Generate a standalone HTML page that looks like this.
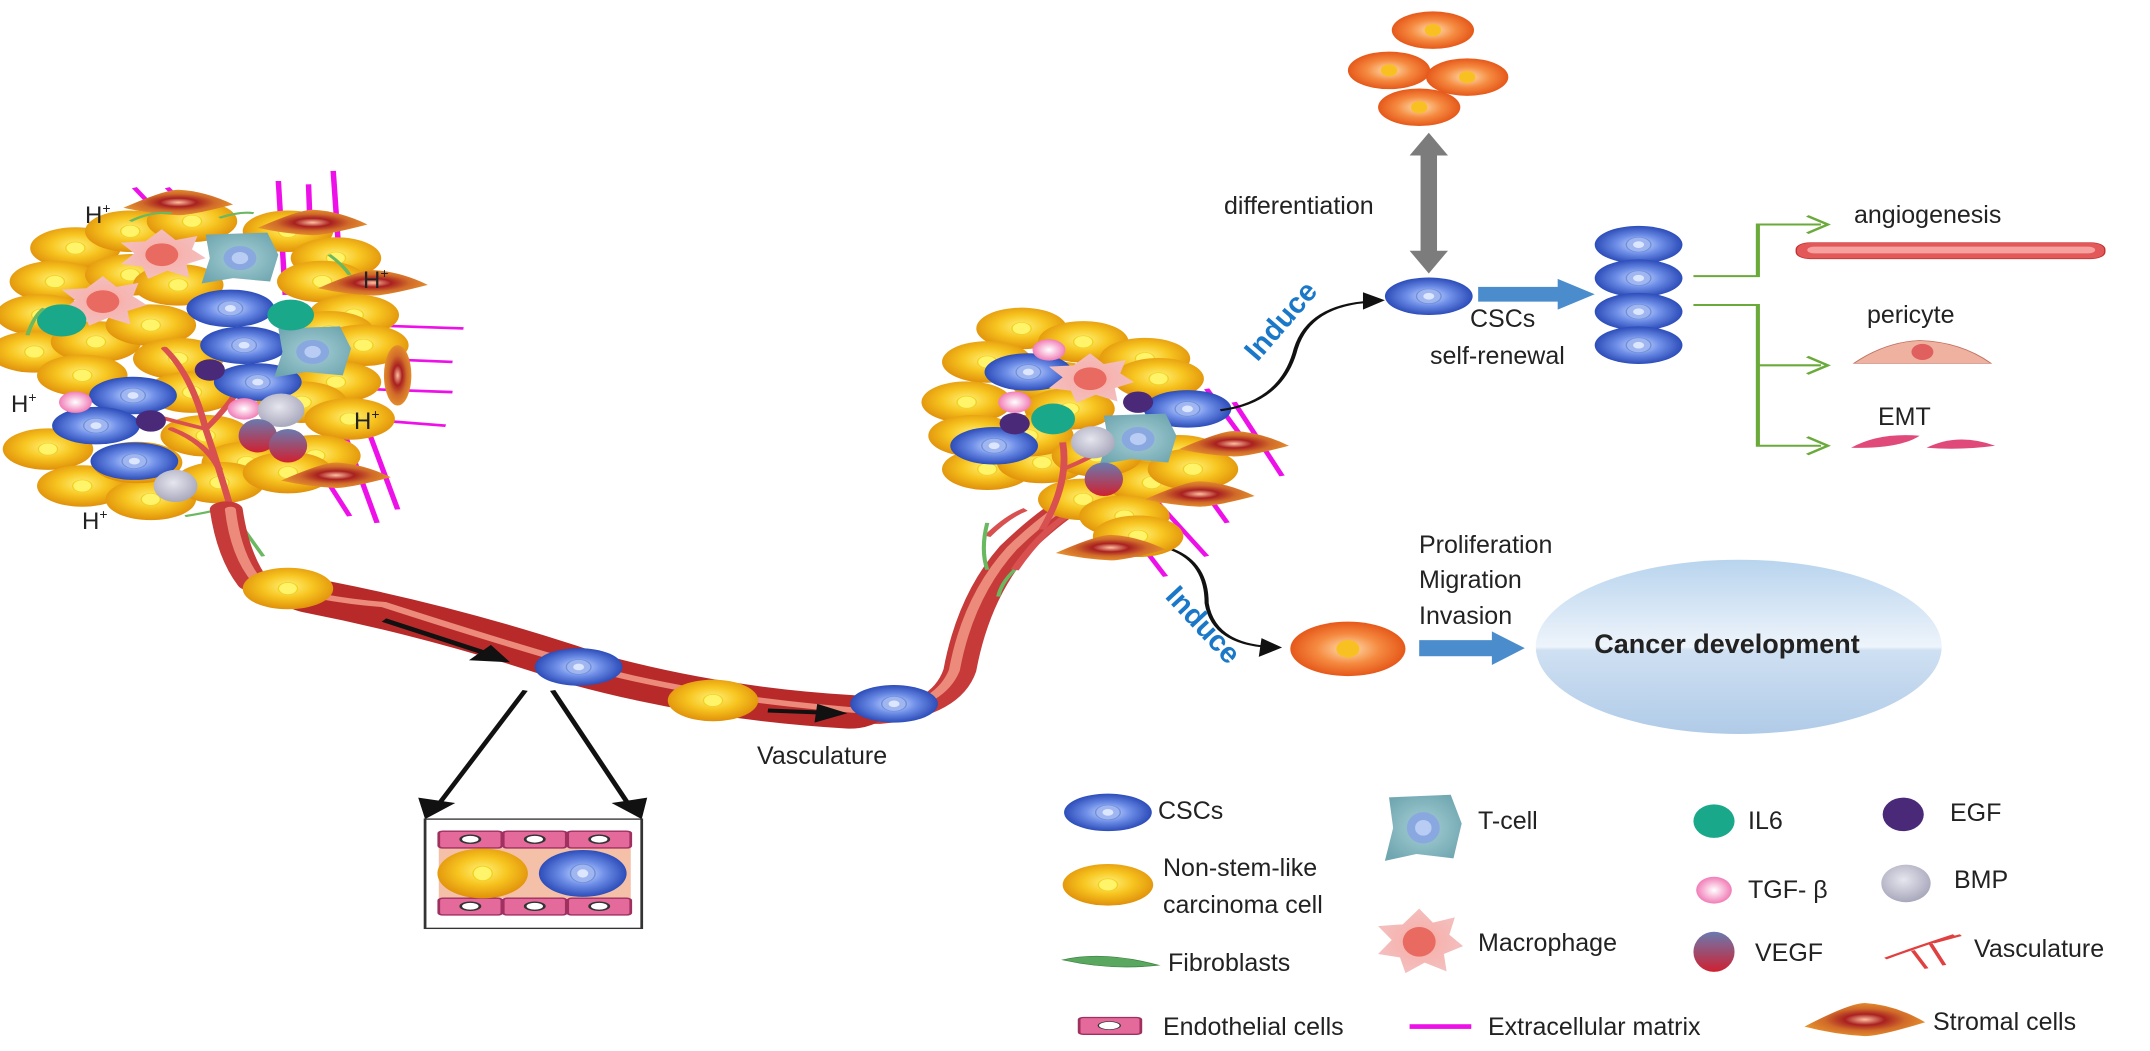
<!DOCTYPE html>
<html><head><meta charset="utf-8"><style>
html,body{margin:0;padding:0;background:#fff}
svg{display:block}
text{font-family:"Liberation Sans",Arial,sans-serif;fill:#222}
</style></head><body>
<svg width="2150" height="1051" viewBox="0 0 2150 1051" xmlns="http://www.w3.org/2000/svg">
<defs>
<radialGradient id="gy" cx="50%" cy="45%" r="55%"><stop offset="0" stop-color="#fff27a"/><stop offset="0.5" stop-color="#f7c520"/><stop offset="1" stop-color="#e0900a"/></radialGradient>
<radialGradient id="gb" cx="50%" cy="50%" r="55%"><stop offset="0" stop-color="#d6e2ff"/><stop offset="0.45" stop-color="#6f8fe8"/><stop offset="1" stop-color="#1f3fb0"/></radialGradient>
<radialGradient id="go" cx="50%" cy="50%" r="55%"><stop offset="0" stop-color="#ffe0b0"/><stop offset="0.5" stop-color="#f58a40"/><stop offset="1" stop-color="#e24d12"/></radialGradient>
<radialGradient id="gt" cx="50%" cy="50%" r="60%"><stop offset="0" stop-color="#a8d0d6"/><stop offset="1" stop-color="#6fa6b0"/></radialGradient>
<radialGradient id="gm" cx="50%" cy="50%" r="55%"><stop offset="0" stop-color="#ff9c8c"/><stop offset="0.4" stop-color="#f6b4b0"/><stop offset="1" stop-color="#f3c0c0"/></radialGradient>
<radialGradient id="gp" cx="50%" cy="50%" r="55%"><stop offset="0" stop-color="#fff"/><stop offset="1" stop-color="#f070b0"/></radialGradient>
<radialGradient id="gbmp" cx="45%" cy="40%" r="60%"><stop offset="0" stop-color="#e6e6ef"/><stop offset="1" stop-color="#a8a8bc"/></radialGradient>
<linearGradient id="gv" x1="0" y1="0" x2="0" y2="1"><stop offset="0" stop-color="#6a7ab0"/><stop offset="1" stop-color="#d02030"/></linearGradient>
<linearGradient id="gc" x1="0" y1="0" x2="0" y2="1"><stop offset="0" stop-color="#b8d4ee"/><stop offset="0.5" stop-color="#eef4fb"/><stop offset="0.52" stop-color="#cfe0f2"/><stop offset="1" stop-color="#b0cbe8"/></linearGradient>
<radialGradient id="gs" cx="50%" cy="50%" r="55%"><stop offset="0" stop-color="#ffc0a0"/><stop offset="0.3" stop-color="#a82020"/><stop offset="0.6" stop-color="#d06a2a"/><stop offset="1" stop-color="#e8962c"/></radialGradient>
<g id="Y"><ellipse rx="33" ry="31" fill="url(#gy)"/><ellipse rx="7" ry="9" fill="#fff46a" stroke="#f2d020"/></g>
<g id="B"><ellipse rx="32" ry="28" fill="url(#gb)"/><ellipse rx="9" ry="11" fill="#9fb6f0" stroke="#6f8fd8"/><ellipse rx="4" ry="5" fill="#dce6ff"/></g>
<g id="O"><ellipse rx="30" ry="28" fill="url(#go)"/><ellipse rx="6" ry="9" fill="#f8c020"/></g>
<g id="T"><path d="M-25,-35 L20,-38 L28,-5 L22,35 L-5,30 L-28,38 L-22,0 Z" fill="url(#gt)"/><ellipse rx="12" ry="18" fill="#8aa8e0"/><ellipse rx="6" ry="9" fill="#b8ccf4"/></g>
<g id="M"><path d="M0,-38 L10,-22 L26,-28 L22,-8 L32,5 L18,14 L20,34 L4,24 L-10,36 L-14,18 L-30,14 L-20,-2 L-30,-18 L-12,-20 Z" fill="url(#gm)"/><ellipse cx="0" cy="0" rx="12" ry="17" fill="#e86a60"/></g>
<g id="S"><path d="M-40,5 Q-10,-22 0,-22 Q20,-20 40,0 Q10,16 0,16 Q-20,14 -40,5Z" fill="url(#gs)"/></g>
</defs>

<!-- shapes in squashed coordinate space -->
<g transform="scale(1.3712,0.6703)">
<!-- left magenta ECM -->
<g stroke="#ee10e8" stroke-width="4" fill="none">
<line x1="98" y1="280" x2="112" y2="310"/><line x1="122" y1="280" x2="134" y2="305"/>
<line x1="203" y1="270" x2="208" y2="440"/><line x1="225" y1="275" x2="228" y2="440"/><line x1="243" y1="255" x2="250" y2="460"/>
<line x1="265" y1="485" x2="338" y2="490"/><line x1="270" y1="535" x2="330" y2="540"/><line x1="262" y1="580" x2="330" y2="585"/><line x1="262" y1="625" x2="325" y2="635"/>
<line x1="250" y1="640" x2="275" y2="780"/><line x1="270" y1="650" x2="290" y2="760"/><line x1="230" y1="690" x2="255" y2="770"/>
</g>
<!-- left tumor yellows -->
<g>
<use href="#Y" x="55" y="370"/><use href="#Y" x="95" y="345"/><use href="#Y" x="140" y="330"/><use href="#Y" x="210" y="345"/><use href="#Y" x="245" y="385"/>
<use href="#Y" x="40" y="420"/><use href="#Y" x="95" y="410"/><use href="#Y" x="130" y="425"/><use href="#Y" x="235" y="420"/><use href="#Y" x="258" y="470"/>
<use href="#Y" x="30" y="470"/><use href="#Y" x="25" y="525"/><use href="#Y" x="70" y="510"/><use href="#Y" x="110" y="485"/><use href="#Y" x="130" y="535"/>
<use href="#Y" x="240" y="495"/><use href="#Y" x="265" y="515"/><use href="#Y" x="60" y="560"/><use href="#Y" x="140" y="585"/><use href="#Y" x="245" y="570"/>
<use href="#Y" x="220" y="600"/><use href="#Y" x="255" y="625"/><use href="#Y" x="35" y="670"/><use href="#Y" x="150" y="650"/><use href="#Y" x="180" y="690"/>
<use href="#Y" x="230" y="680"/><use href="#Y" x="60" y="725"/><use href="#Y" x="110" y="745"/><use href="#Y" x="160" y="720"/><use href="#Y" x="210" y="705"/><use href="#Y" x="100" y="690"/>
</g>
<!-- left vessel branches -->
<g stroke="#d85050" stroke-width="5" fill="none" stroke-linecap="round">
<path d="M170,770 Q160,700 150,640 Q140,560 120,520"/><path d="M150,640 Q110,620 80,600"/><path d="M160,700 Q150,660 125,640"/>
<path d="M150,640 Q170,600 180,560"/>
</g>
<use href="#B" x="168" y="460"/><use href="#B" x="178" y="515"/><use href="#B" x="188" y="570"/>
<use href="#B" x="97" y="590"/><use href="#B" x="70" y="635"/><use href="#B" x="98" y="688"/>
<use href="#T" x="175" y="385"/><use href="#T" x="228" y="525"/>
<use href="#M" x="118" y="380"/><use href="#M" x="75" y="450"/>
<ellipse cx="45" cy="478" rx="18" ry="24" fill="#1aa88a"/><ellipse cx="212" cy="470" rx="17" ry="23" fill="#1aa88a"/>
<ellipse cx="153" cy="552" rx="11" ry="16" fill="#4a2a78"/><ellipse cx="110" cy="628" rx="11" ry="16" fill="#4a2a78"/>
<ellipse cx="55" cy="600" rx="12" ry="16" fill="url(#gp)"/><ellipse cx="178" cy="610" rx="12" ry="16" fill="url(#gp)"/>
<ellipse cx="205" cy="612" rx="17" ry="25" fill="url(#gbmp)"/><ellipse cx="128" cy="725" rx="16" ry="24" fill="url(#gbmp)"/>
<ellipse cx="188" cy="650" rx="14" ry="25" fill="url(#gv)"/><ellipse cx="210" cy="665" rx="14" ry="25" fill="url(#gv)"/>
<use href="#S" x="130" y="305"/><use href="#S" x="228" y="335"/><use href="#S" x="272" y="425" transform="rotate(0)"/><use href="#S" x="245" y="712"/>
<ellipse cx="290" cy="560" rx="10" ry="45" fill="url(#gs)"/>
<g stroke="#6ab860" stroke-width="3" fill="none"><path d="M95,330 Q110,315 125,318"/><path d="M160,325 Q175,315 185,318"/><path d="M20,500 Q25,470 32,460"/><path d="M240,380 Q250,395 255,410"/><path d="M178,790 Q185,810 192,830"/><path d="M135,770 Q150,765 160,760"/></g>

<!-- main vessel -->
<path d="M165,760 Q170,830 185,870 Q230,900 280,905 Q360,960 430,1000 Q520,1050 640,1068 Q690,1060 700,1000 Q710,890 740,820 Q765,770 790,740" fill="none" stroke="#c63a3a" stroke-width="24" stroke-linejoin="round" stroke-linecap="round"/>
<path d="M230,890 Q330,930 430,1000 Q520,1050 620,1062" fill="none" stroke="#b82a2a" stroke-width="50" stroke-linecap="round"/>
<path d="M168,760 Q172,830 188,868 Q235,895 280,902 Q360,955 430,996 Q520,1045 640,1062 Q685,1055 696,1000 Q706,890 738,818 Q762,770 788,738" fill="none" stroke="#ec8a7c" stroke-width="8" stroke-linecap="round"/>
<path d="M740,850 Q760,790 785,760" fill="none" stroke="#d85050" stroke-width="6"/>
<path d="M720,800 Q735,770 748,760" fill="none" stroke="#d85050" stroke-width="5"/>
<use href="#Y" x="210" y="878"/><use href="#B" x="422" y="995"/><use href="#Y" x="520" y="1045"/><use href="#B" x="652" y="1050"/>
<g stroke="#111" stroke-width="6" fill="#111">
<line x1="280" y1="925" x2="355" y2="975"/><polygon points="372,988 342,985 358,962" stroke="none"/>
<line x1="560" y1="1060" x2="598" y2="1063"/><polygon points="618,1064 594,1078 596,1050" stroke="none"/>
</g>
<g stroke="#111" stroke-width="4" fill="#111">
<line x1="383" y1="1030" x2="318" y2="1205"/><polygon points="310,1222 305,1190 332,1198" stroke="none"/>
<line x1="403" y1="1030" x2="460" y2="1205"/><polygon points="468,1222 446,1198 472,1190" stroke="none"/>
</g>
<!-- zoom box -->
<rect x="310" y="1222" width="158" height="163" fill="#fff" stroke="#333" stroke-width="2"/>
<rect x="320" y="1265" width="140" height="75" fill="#f4c0a8"/>
<g fill="#e56a9c" stroke="#a03060" stroke-width="2">
<rect x="320" y="1240" width="46" height="25" rx="3"/><rect x="367" y="1240" width="46" height="25" rx="3"/><rect x="414" y="1240" width="46" height="25" rx="3"/>
<rect x="320" y="1340" width="46" height="25" rx="3"/><rect x="367" y="1340" width="46" height="25" rx="3"/><rect x="414" y="1340" width="46" height="25" rx="3"/>
</g>
<g fill="#fff" stroke="#333" stroke-width="2"><ellipse cx="343" cy="1252" rx="7" ry="6"/><ellipse cx="390" cy="1252" rx="7" ry="6"/><ellipse cx="437" cy="1252" rx="7" ry="6"/><ellipse cx="343" cy="1352" rx="7" ry="6"/><ellipse cx="390" cy="1352" rx="7" ry="6"/><ellipse cx="437" cy="1352" rx="7" ry="6"/></g>
<g transform="translate(352,1303) scale(1,1.2)"><use href="#Y"/></g>
<g transform="translate(425,1303) scale(1,1.25)"><use href="#B"/></g>

<!-- right tumor -->
<g stroke="#ee10e8" stroke-width="4"><line x1="880" y1="580" x2="905" y2="650"/><line x1="900" y1="600" x2="935" y2="710"/><line x1="860" y1="680" x2="895" y2="780"/><line x1="840" y1="740" x2="880" y2="830"/><line x1="820" y1="780" x2="850" y2="860"/></g>
<use href="#Y" x="745" y="490"/><use href="#Y" x="790" y="510"/><use href="#Y" x="835" y="535"/><use href="#Y" x="720" y="540"/><use href="#Y" x="770" y="570"/>
<use href="#Y" x="845" y="565"/><use href="#Y" x="705" y="600"/><use href="#Y" x="780" y="610"/><use href="#Y" x="860" y="680"/><use href="#Y" x="720" y="700"/>
<use href="#Y" x="760" y="690"/><use href="#Y" x="790" y="745"/><use href="#Y" x="840" y="720"/><use href="#Y" x="820" y="770"/><use href="#Y" x="830" y="800"/>
<use href="#Y" x="870" y="700"/><use href="#Y" x="750" y="650"/><use href="#Y" x="710" y="650"/><use href="#Y" x="800" y="680"/>
<g stroke="#d85050" stroke-width="5" fill="none"><path d="M760,790 Q780,720 775,660"/><path d="M775,700 Q800,680 810,660"/></g>
<use href="#B" x="750" y="555"/><use href="#B" x="725" y="665"/><use href="#B" x="866" y="610"/>
<use href="#T" x="830" y="655"/><use href="#M" x="795" y="565"/>
<ellipse cx="768" cy="625" rx="16" ry="23" fill="#1aa88a"/>
<ellipse cx="765" cy="522" rx="12" ry="16" fill="url(#gp)"/><ellipse cx="740" cy="600" rx="12" ry="16" fill="url(#gp)"/>
<ellipse cx="830" cy="600" rx="11" ry="16" fill="#4a2a78"/><ellipse cx="740" cy="632" rx="11" ry="16" fill="#4a2a78"/>
<ellipse cx="797" cy="660" rx="16" ry="24" fill="url(#gbmp)"/>
<ellipse cx="805" cy="715" rx="14" ry="25" fill="url(#gv)"/>
<use href="#S" x="900" y="665"/><use href="#S" x="875" y="740"/><use href="#S" x="810" y="820"/>
<g stroke="#6ab860" stroke-width="3" fill="none"><path d="M720,780 Q715,820 720,850"/><path d="M740,850 Q730,870 728,890"/></g>
<!-- induce arrows -->
<g fill="none" stroke="#111" stroke-width="3"><path d="M890,612 Q935,600 945,520 Q955,455 1000,450"/><path d="M855,820 Q880,840 880,900 Q885,960 925,965"/></g>
<polygon points="1010,448 994,436 994,462" fill="#111"/><polygon points="935,966 920,952 918,980" fill="#111"/>

<!-- right side -->
<use href="#O" x="1045" y="45"/><use href="#O" x="1013" y="105"/><use href="#O" x="1070" y="115"/><use href="#O" x="1035" y="160"/>
<rect x="1036" y="225" width="12" height="155" fill="#7c7c7c"/>
<polygon points="1042,198 1028,232 1056,232" fill="#7c7c7c"/><polygon points="1042,408 1028,374 1056,374" fill="#7c7c7c"/>
<use href="#B" x="1042" y="442"/>
<rect x="1078" y="428" width="62" height="22" fill="#4a8ccc"/><polygon points="1136,416 1163,439 1136,462" fill="#4a8ccc"/>
<use href="#B" x="1195" y="365"/><use href="#B" x="1195" y="415"/><use href="#B" x="1195" y="465"/><use href="#B" x="1195" y="515"/>
<g fill="none" stroke="#6aaa3a" stroke-width="3"><polyline points="1235,412 1282,412 1282,335 1328,335"/><polyline points="1235,455 1282,455 1282,665 1328,665"/><line x1="1282" y1="545" x2="1328" y2="545"/>
<polyline points="1318,322 1333,335 1318,348"/><polyline points="1318,532 1333,545 1318,558"/><polyline points="1318,652 1333,665 1318,678"/></g>
<rect x="1310" y="362" width="225" height="24" rx="10" fill="#e35858" stroke="#c03030"/><rect x="1318" y="368" width="210" height="10" rx="5" fill="#f6a0a0"/>
<path d="M1352,542 Q1375,510 1400,508 Q1430,510 1452,542 Z" fill="#f0b2a0" stroke="#c07060"/><ellipse cx="1402" cy="525" rx="8" ry="12" fill="#e06060"/>
<path d="M1350,668 Q1370,645 1400,650 Q1385,670 1350,668Z" fill="#e04a7a"/><path d="M1405,668 Q1428,645 1455,665 Q1430,672 1405,668Z" fill="#e04a7a"/>
<use href="#O" x="983" y="968" transform="translate(983,968) scale(1.4,1.45) translate(-983,-968)"/>
<rect x="1035" y="955" width="55" height="24" fill="#4a8ccc"/><polygon points="1088,942 1112,967 1088,992" fill="#4a8ccc"/>
<ellipse cx="1268" cy="965" rx="148" ry="130" fill="url(#gc)"/>

<!-- legend -->
<use href="#B" x="808" y="1212"/><use href="#Y" x="808" y="1320"/>
<path d="M775,1432 Q805,1418 845,1440 Q810,1448 775,1432Z" fill="#5aa860" stroke="#3a8040"/>
<g transform="translate(1038,1235) scale(1,1.3)"><use href="#T"/></g>
<g transform="translate(1035,1405) scale(1,1.3)"><use href="#M"/></g>
<ellipse cx="1250" cy="1225" rx="15" ry="25" fill="#1aa88a"/><ellipse cx="1388" cy="1215" rx="15" ry="25" fill="#4a2a78"/>
<ellipse cx="1250" cy="1328" rx="13" ry="20" fill="url(#gp)"/><ellipse cx="1390" cy="1318" rx="18" ry="28" fill="url(#gbmp)"/>
<ellipse cx="1250" cy="1420" rx="15" ry="30" fill="url(#gv)"/>
<g stroke="#e04040" stroke-width="3" fill="none"><path d="M1375,1430 Q1395,1415 1425,1395"/><path d="M1395,1418 L1405,1445"/><path d="M1408,1408 L1418,1440"/><path d="M1410,1406 L1430,1395"/></g>
<rect x="787" y="1518" width="45" height="25" rx="3" fill="#e56a9c" stroke="#a03060" stroke-width="2"/><ellipse cx="809" cy="1530" rx="8" ry="6" fill="#fff" stroke="#333"/>
<rect x="1028" y="1528" width="45" height="7" fill="#ee10e8"/>
<g transform="translate(1360,1525) scale(1.1,1.3)"><use href="#S"/></g>
</g>

<!-- text in real coordinates -->
<g font-size="24">
<text x="85" y="223">H<tspan font-size="14" dy="-10">+</tspan></text>
<text x="363" y="288">H<tspan font-size="14" dy="-10">+</tspan></text>
<text x="11" y="412">H<tspan font-size="14" dy="-10">+</tspan></text>
<text x="354" y="429">H<tspan font-size="14" dy="-10">+</tspan></text>
<text x="82" y="529">H<tspan font-size="14" dy="-10">+</tspan></text>
</g>
<g font-size="25">
<text x="1224" y="214">differentiation</text>
<text x="1470" y="327">CSCs</text>
<text x="1430" y="364">self-renewal</text>
<text x="1854" y="223">angiogenesis</text>
<text x="1867" y="323">pericyte</text>
<text x="1878" y="425">EMT</text>
<text x="1419" y="553">Proliferation</text>
<text x="1419" y="588">Migration</text>
<text x="1419" y="624">Invasion</text>
<text x="757" y="764">Vasculature</text>
<text x="1158" y="819">CSCs</text>
<text x="1163" y="876">Non-stem-like</text>
<text x="1163" y="913">carcinoma cell</text>
<text x="1168" y="971">Fibroblasts</text>
<text x="1478" y="829">T-cell</text>
<text x="1478" y="951">Macrophage</text>
<text x="1748" y="829">IL6</text>
<text x="1748" y="898">TGF- β</text>
<text x="1755" y="961">VEGF</text>
<text x="1950" y="821">EGF</text>
<text x="1954" y="888">BMP</text>
<text x="1974" y="957">Vasculature</text>
<text x="1163" y="1035">Endothelial cells</text>
<text x="1488" y="1035">Extracellular matrix</text>
<text x="1933" y="1030">Stromal cells</text>
</g>
<text x="1727" y="653" font-size="27" font-weight="bold" text-anchor="middle">Cancer development</text>
<text x="1282" y="330" font-size="29" font-weight="bold" style="fill:#1a78c8" text-anchor="middle" transform="rotate(-49 1282 322)">Induce</text>
<text x="1202" y="634" font-size="29" font-weight="bold" style="fill:#1a78c8" text-anchor="middle" transform="rotate(47 1202 626)">Induce</text>
</svg>
</body></html>
